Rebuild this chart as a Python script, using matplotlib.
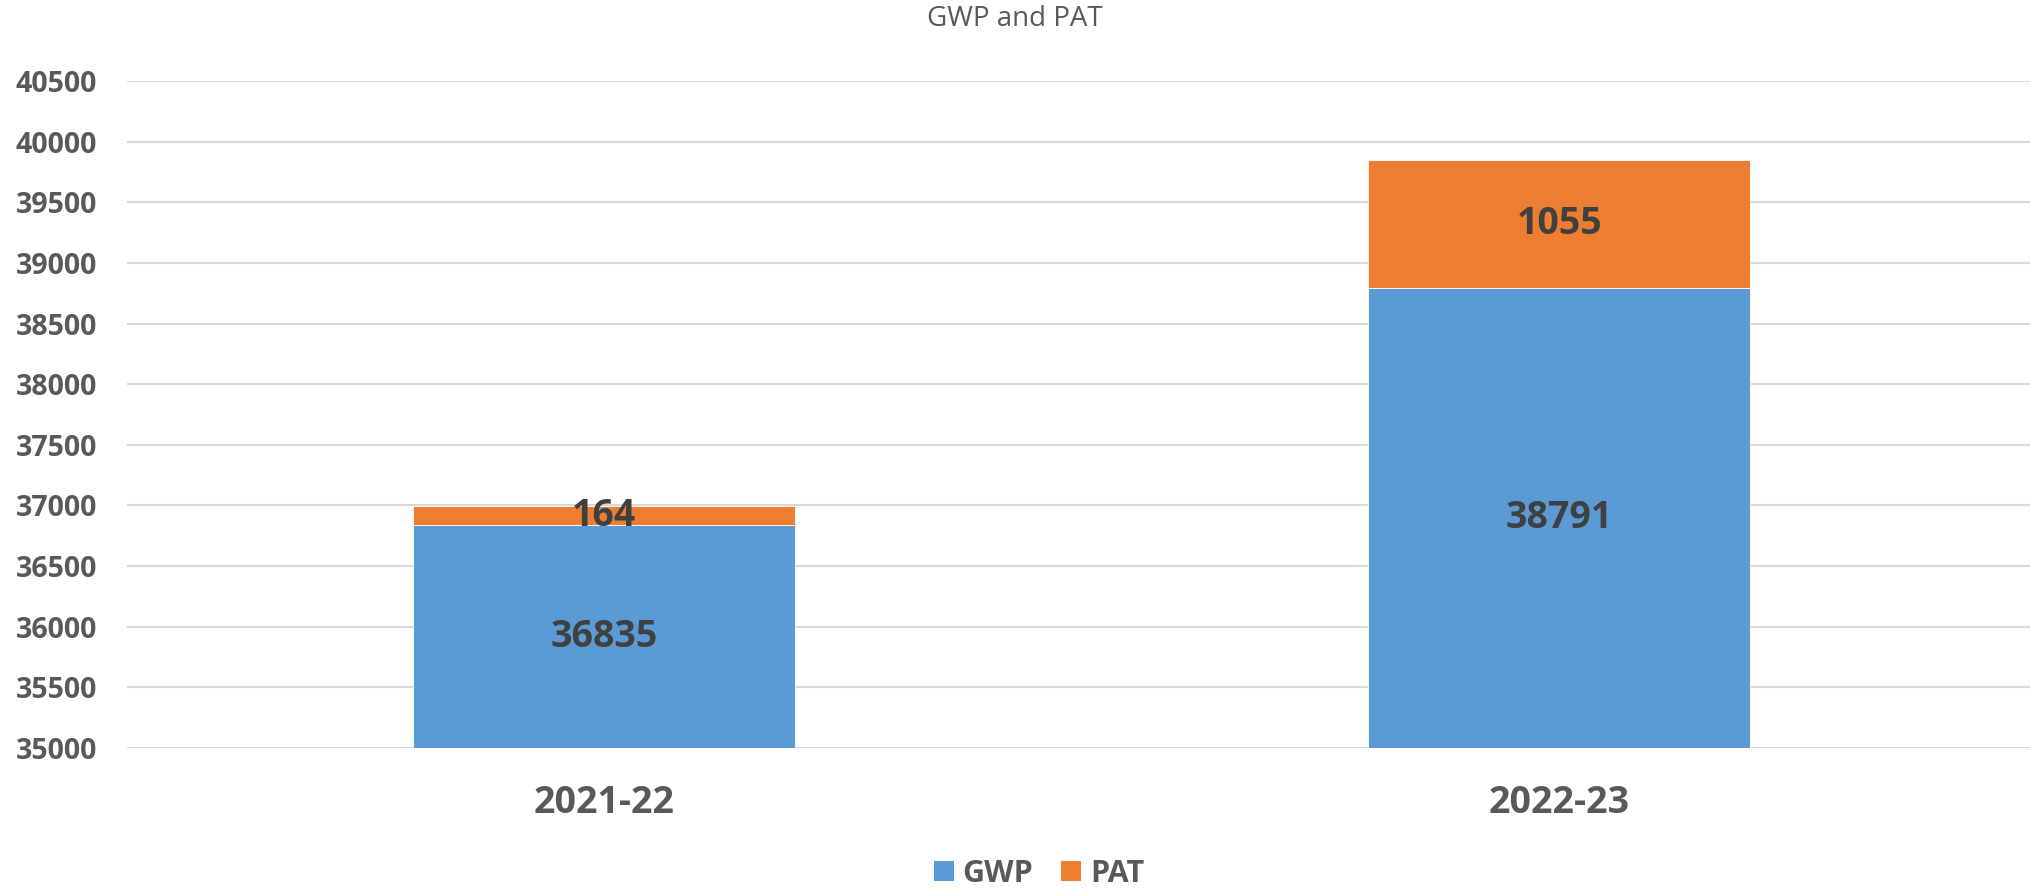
import matplotlib
matplotlib.use("Agg")
import matplotlib.pyplot as plt
from matplotlib.patches import Patch

categories = ["2021-22", "2022-23"]
gwp = [36835, 38791]
pat = [164, 1055]
series_names = ["GWP", "PAT"]
yticks = list(range(35000, 41000, 500))

BLUE = "#5B9BD5"
ORANGE = "#ED7D31"
GRID = "#D9D9D9"
TXT = "#595959"
LBL = "#404040"

plt.rcParams['font.family'] = ['Open Sans', 'DejaVu Sans']

W, H = 2031, 893
fig = plt.figure(figsize=(W / 100, H / 100), dpi=100)
ax = fig.add_axes([127 / W, (H - 748) / H, (2031 - 127) / W, (748 - 81) / H])

x = list(range(len(categories)))
width = 0.4
ax.bar(x, gwp, width, color=BLUE, edgecolor="white", linewidth=0.6, zorder=3)
ax.bar(x, pat, width, bottom=gwp, color=ORANGE, edgecolor="white", linewidth=0.6, zorder=3)

ax.set_ylim(35000, 40500)
ax.set_xlim(-0.5, 1.494)
ax.set_yticks(yticks)
ax.set_yticklabels([str(v) for v in yticks], fontsize=20.5, fontweight="bold", color=TXT)
ax.set_xticks(x)
ax.set_xticklabels(categories, fontsize=27, fontweight="bold", color=TXT)
ax.tick_params(axis="y", length=0, pad=21.6)
ax.tick_params(axis="x", length=0, pad=26)
ax.grid(axis="y", color=GRID, linewidth=1.5, zorder=0)
for s in ax.spines.values():
    s.set_visible(False)

for i in x:
    ax.text(i, (35000 + gwp[i]) / 2, str(gwp[i]), ha="center", va="center",
            fontsize=27, fontweight="bold", color=LBL, zorder=5)
    ax.text(i, gwp[i] + pat[i] / 2, str(pat[i]), ha="center", va="center",
            fontsize=27, fontweight="bold", color=LBL, zorder=5)

fig.text(1015 / W, 1 - 19 / H, "GWP and PAT", ha="center", va="center",
         fontsize=20, color=TXT)

handles = [Patch(facecolor=BLUE), Patch(facecolor=ORANGE)]
leg = fig.legend(handles, series_names, loc="center", bbox_to_anchor=(1039 / W, 1 - 874 / H),
                 ncol=2, frameon=False, handlelength=0.65, handleheight=0.65,
                 handletextpad=0.3, columnspacing=0.9,
                 prop={"size": 22, "weight": "bold"})
for t in leg.get_texts():
    t.set_color(TXT)

fig.savefig("out.png", dpi=100)
